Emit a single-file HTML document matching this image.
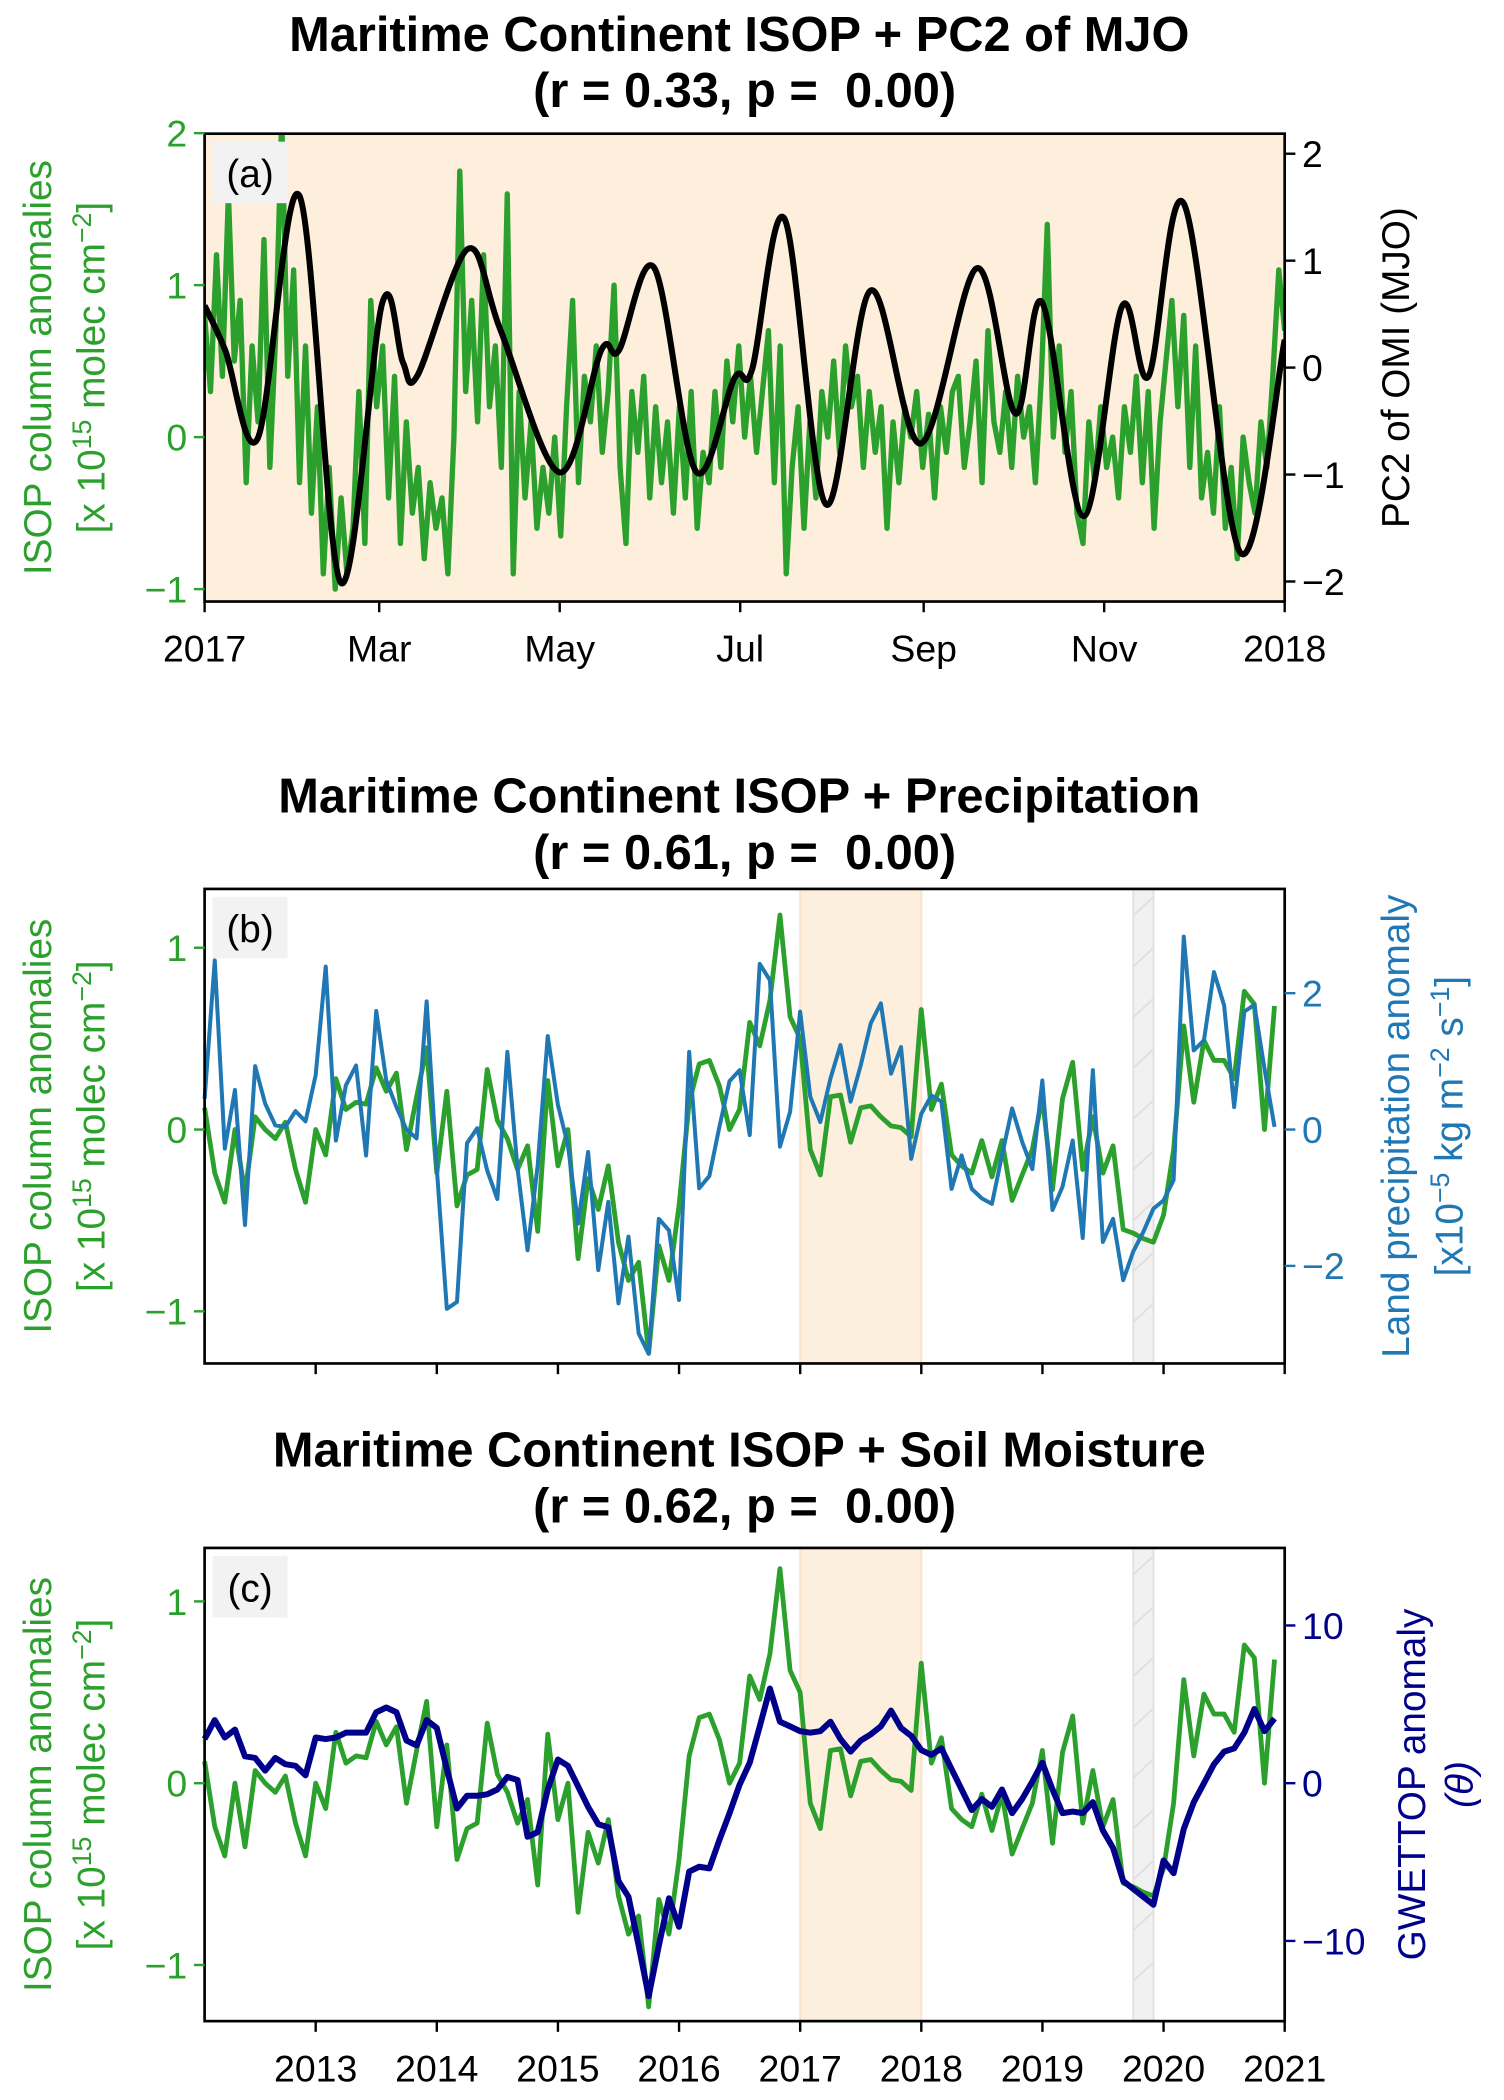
<!DOCTYPE html>
<html><head><meta charset="utf-8"><style>
html,body{margin:0;padding:0;background:#fff;}
svg{display:block;font-family:"Liberation Sans",Arial,sans-serif;}
text{white-space:pre;}
</style></head><body>
<svg id="fig" xmlns="http://www.w3.org/2000/svg" width="1504" height="2100" viewBox="0 0 1125 1571">
<g id="root"></g>
</svg>
<script>
// ---------- DATA ----------
const isopDaily = [0.8,0.3,1.2,0.4,1.6,0.5,0.9,-0.3,0.6,0.1,1.3,-0.2,0.7,2.1,0.4,
1.1,-0.3,0.6,-0.5,0.2,-0.9,-0.2,
-1.0,-0.4,-0.9,-0.6,0.3,-0.7,0.9,
0.2,0.6,-0.4,0.4,-0.7,0.1,-0.5,
-0.2,-0.8,-0.3,-0.6,-0.4,-0.9,0.0,
1.75,0.3,0.9,0.1,1.2,0.2,0.6,
-0.2,1.6,-0.9,0.3,-0.4,0.1,-0.6,
-0.2,-0.5,0.0,-0.65,0.2,0.9,-0.3,
0.4,0.1,0.6,-0.1,0.3,1.0,-0.2,
-0.7,0.3,-0.1,0.4,-0.4,0.2,-0.3,
0.1,-0.5,0.2,-0.4,0.3,-0.6,-0.1,
-0.3,0.3,-0.2,0.5,0.1,0.6,0.0,
0.4,-0.1,0.3,0.7,-0.3,0.6,-0.9,
-0.2,0.2,-0.6,0.1,-0.4,0.3,0.0,
0.5,-0.1,0.6,0.2,0.4,-0.2,0.3,
-0.1,0.2,-0.6,0.1,-0.3,0.2,0.0,
0.3,-0.2,0.15,-0.4,0.2,-0.1,0.3,
0.4,-0.2,0.1,0.5,-0.3,0.7,0.1,
-0.1,0.3,-0.2,0.4,0.0,0.2,-0.3,
0.4,1.4,0.0,0.6,-0.1,0.3,-0.5,
-0.7,0.1,-0.3,0.2,-0.2,0.0,-0.4,
0.2,-0.1,0.4,-0.3,0.3,-0.6,0.1,
0.5,0.9,0.2,0.8,-0.2,0.6,-0.4,
-0.1,-0.5,0.2,-0.6,-0.2,-0.8,0.0,
-0.3,-0.5,0.1,-0.2,0.4,1.1,0.7];
const mjoDays = [0,7,18,32,46,60,67,72,89,100,120,134,140,152,166,179,185,196,210,225,242,261,274,283,297,310,319,331,350,365];
const mjoVals = [0.58,0.16,-0.66,1.61,-2.01,0.6,0.05,-0.07,1.11,0.35,-0.98,0.16,0.16,0.93,-0.97,-0.1,-0.02,1.39,-1.28,0.72,-0.71,0.93,-0.43,0.61,-1.39,0.57,-0.08,1.53,-1.73,0.26];
const isopMonthly = [0.12,-0.24,-0.4,0,-0.35,0.07,0,-0.05,0.04,-0.22,-0.4,0,-0.14,0.28,0.11,0.15,0.14,0.34,0.21,0.31,-0.11,0.18,0.45,-0.24,0.21,-0.42,-0.25,-0.22,0.33,0.05,-0.05,-0.22,-0.09,-0.56,0.27,-0.2,0,-0.71,-0.27,-0.44,-0.2,-0.62,-0.83,-0.73,-1.23,-0.64,-0.83,-0.42,0.15,0.36,0.38,0.24,0,0.11,0.59,0.46,0.71,1.18,0.62,0.5,-0.11,-0.25,0.18,0.19,-0.07,0.12,0.13,0.07,0.02,0.01,-0.04,0.66,0.11,0.25,-0.14,-0.2,-0.24,-0.06,-0.26,-0.06,-0.39,-0.25,-0.11,0.18,-0.33,0.17,0.37,-0.22,0.07,-0.24,-0.09,-0.55,-0.57,-0.6,-0.62,-0.47,-0.11,0.57,0.15,0.49,0.38,0.38,0.28,0.76,0.69,0,0.68];
const precipMonthly = [0.45,2.48,-0.28,0.58,-1.4,0.93,0.38,0.06,0.04,0.27,0.12,0.8,2.39,-0.16,0.65,0.94,-0.38,1.74,0.72,0.33,0,-0.13,1.88,-0.57,-2.63,-2.53,-0.2,0.02,-0.6,-1.02,1.14,-0.57,-1.77,-0.52,1.37,0.36,-0.23,-1.38,-0.33,-2.06,-1.06,-2.55,-1.57,-2.99,-3.29,-1.31,-1.48,-2.5,1.14,-0.86,-0.68,0.04,0.71,0.87,-0.08,2.43,2.19,-0.25,0.26,1.73,0.48,0.11,0.75,1.24,0.41,0.94,1.56,1.85,0.82,1.21,-0.43,0.23,0.5,0.41,-0.87,-0.38,-0.87,-1.01,-1.09,-0.38,0.31,-0.18,-0.58,0.72,-1.18,-0.84,-0.16,-1.59,0.87,-1.65,-1.31,-2.21,-1.79,-1.5,-1.16,-1.04,-0.74,2.83,1.16,1.31,2.31,1.82,0.33,1.73,1.83,0.89,0.04];
const gwetMonthly = [2.8,4.0,2.9,3.4,1.7,1.6,0.8,1.6,1.2,1.1,0.5,2.9,2.8,2.9,3.2,3.2,3.2,4.5,4.8,4.5,2.7,2.4,4.0,3.5,0.9,-1.6,-0.8,-0.8,-0.7,-0.4,0.4,0.2,-3.4,-3.1,-0.4,1.5,1.1,-0.2,-1.5,-2.6,-2.8,-6.2,-7.2,-10.3,-13.5,-10.3,-7.3,-9.1,-5.6,-5.3,-5.4,-3.6,-1.9,-0.1,1.3,3.6,6.0,3.9,3.6,3.3,3.2,3.3,3.9,2.8,2.0,2.7,3.1,3.6,4.6,3.5,3.0,2.1,1.8,2.2,0.9,-0.4,-1.7,-1.0,-1.5,-0.4,-1.9,-1.0,0.1,1.3,-0.4,-1.9,-1.8,-1.9,-1.2,-3.0,-4.1,-6.2,-6.7,-7.2,-7.7,-4.9,-5.7,-2.9,-1.2,0,1.2,2.0,2.2,3.2,4.7,3.3,4.1];
const monthTickLabels = ["Mar","May","Jul","Sep","Nov"];
const monthTickDays = [59,120,181,243,304];
const yearTicks = [2013,2014,2015,2016,2017,2018,2019,2020,2021];

// ---------- HELPERS ----------
const NS="http://www.w3.org/2000/svg";
const root=document.getElementById('root');
function mk(tag,attrs,parent){const e=document.createElementNS(NS,tag);for(const k in attrs)e.setAttribute(k,attrs[k]);(parent||root).appendChild(e);return e;}
function txt(s,x,y,o,parent){const e=mk('text',Object.assign({x:x,y:y},o||{}),parent);e.textContent=s;return e;}
const GREEN="#2ca02c",BLUE="#1f77b4",NAVY="#00008b";
const XL=153,XR=961;
const TF=36.5, TK=28, LF=29;

function pathFrom(xs,ys){return xs.map((x,i)=>(i?'L':'M')+x.toFixed(1)+','+ys[i].toFixed(1)).join('');}
function catmull(pts){let d='M'+pts[0][0]+','+pts[0][1];for(let i=0;i<pts.length-1;i++){const p0=pts[Math.max(0,i-1)],p1=pts[i],p2=pts[i+1],p3=pts[Math.min(pts.length-1,i+2)];const c1=[p1[0]+(p2[0]-p0[0])/6,p1[1]+(p2[1]-p0[1])/6],c2=[p2[0]-(p3[0]-p1[0])/6,p2[1]-(p3[1]-p1[1])/6];d+='C'+c1[0].toFixed(1)+','+c1[1].toFixed(1)+' '+c2[0].toFixed(1)+','+c2[1].toFixed(1)+' '+p2[0].toFixed(1)+','+p2[1].toFixed(1);}return d;}

function titles(t1,t2,y){
  const a=txt(t1,553,y,{'font-size':TF,'font-weight':'bold','text-anchor':'middle'});
  
  
  const b=txt(t2,557,y+42,{'font-size':TF,'font-weight':'bold','text-anchor':'middle'});
  
  
}
function yTicks(vals,yf,side,color,g){
  vals.forEach(v=>{const y=yf(v);
    if(side==='L'){mk('line',{x1:XL-8,x2:XL,y1:y,y2:y,stroke:color,'stroke-width':1.8},g);
      const t=txt(v<0?'\u2212'+Math.abs(v):String(v),XL-13,y+10,{'font-size':TK,fill:color,'text-anchor':'end'},g);
      
      }
    else{mk('line',{x1:XR,x2:XR+8,y1:y,y2:y,stroke:color,'stroke-width':1.8},g);
      const t=txt(v<0?'\u2212'+Math.abs(v):String(v),XR+13,y+10,{'font-size':TK,fill:color},g);
      
      }
  });
}
function leftLabel(top,bot,g){
  const cy=(top+bot)/2;
  const a=txt('ISOP column anomalies',0,0,{'font-size':LF,fill:GREEN,'text-anchor':'middle',transform:`translate(38,${cy}) rotate(-90)`},g);
  
  
  const b=mk('text',{'font-size':LF,fill:GREEN,'text-anchor':'middle',transform:`translate(78,${cy}) rotate(-90)`},g);
  
  
  b.innerHTML='[x 10<tspan dy="-10" font-size="20">15</tspan><tspan dy="10"> molec cm</tspan><tspan dy="-10" font-size="20">\u22122</tspan><tspan dy="10">]</tspan>';
}
function panelLetter(s,top,g){
  mk('rect',{x:159,y:top+6,width:56,height:46,fill:'#f2f2f2'},g);
  const t=txt(s,187,top+40,{'font-size':29,'text-anchor':'middle'},g);
  
  
}
function frame(top,bot,g){mk('rect',{x:XL,y:top,width:XR-XL,height:bot-top,fill:'none',stroke:'#000','stroke-width':2},g);}

// ---------- PANEL A ----------
(function(){
  const g=mk('g',{});
  
  
  const T=100,B=450;
  const yL=v=>327-v*113.7, yR=v=>275-v*80, xd=d=>XL+d*(XR-XL)/365;
  titles('Maritime Continent ISOP + PC2 of MJO','(r = 0.33, p =  0.00)',38);
  const bg=mk('rect',{x:XL,y:T,width:XR-XL,height:B-T,fill:'#feefdd'},g);
  
  
  const cp=mk('clipPath',{id:'cpa'},g);mk('rect',{x:XL,y:T,width:XR-XL,height:B-T},cp);
  const n=isopDaily.length;
  const xs=isopDaily.map((v,i)=>xd(i*365/(n-1))), ys=isopDaily.map(v=>yL(v));
  const gl=mk('path',{d:pathFrom(xs,ys),fill:'none',stroke:GREEN,'stroke-width':4,'stroke-linejoin':'round','clip-path':'url(#cpa)'},g);
  
  
  const pts=mjoDays.map((d,i)=>[xd(d),yR(mjoVals[i])]);
  const bl=mk('path',{d:catmull(pts),fill:'none',stroke:'#000','stroke-width':4.5,'clip-path':'url(#cpa)'},g);
  
  
  frame(T,B,g);
  panelLetter('(a)',T,g);
  yTicks([-1,0,1,2],yL,'L',GREEN,g);
  yTicks([-2,-1,0,1,2],yR,'R','#000',g);
  const xt=[[0,'2017']].concat(monthTickDays.map((d,i)=>[d,monthTickLabels[i]])).concat([[365,'2018']]);
  xt.forEach(([d,s])=>{const x=xd(d);mk('line',{x1:x,x2:x,y1:B,y2:B+8,stroke:'#000','stroke-width':1.8},g);
    const t=txt(s,x,B+45,{'font-size':TK,'text-anchor':'middle'},g);
    
    });
  leftLabel(T,B,g);
  const r=txt('PC2 of OMI (MJO)',0,0,{'font-size':LF,'text-anchor':'middle',transform:`translate(1054,${(T+B)/2}) rotate(-90)`},g);
  
  
})();

// ---------- PANELS B & C ----------
function monthlyPanel(opt){
  const g=mk('g',{});
  
  
  const T=opt.top,B=opt.bot;
  const xt=t=>XL+(t-2012.083)*(XR-XL)/(2021-2012.083);
  const xm=i=>xt(2012.083+i/12);
  titles(opt.t1,opt.t2,opt.ty);
  const sh=mk('rect',{x:xt(2017),y:T,width:xt(2018)-xt(2017),height:B-T,fill:'#fdefdd',stroke:'#fde3c8','stroke-width':1.5},g);
  
  
  const gx=xt(2019.75),gw=xt(2019.917)-gx;
  const gr=mk('rect',{x:gx,y:T,width:gw,height:B-T,fill:'#f1f1f1',stroke:'#e2e2e2','stroke-width':1.5},g);
  
  
  for(let y=T+20;y<B;y+=38)mk('line',{x1:gx,y1:y,x2:gx+gw,y2:y-14,stroke:'#e0e0e0','stroke-width':1.5},g);
  const yL=v=>opt.l0-v*opt.lk, yR=v=>opt.r0-v*opt.rk;
  const gl=mk('path',{d:pathFrom(isopMonthly.map((v,i)=>xm(i)),isopMonthly.map(yL)),fill:'none',stroke:GREEN,'stroke-width':3.6,'stroke-linejoin':'round'},g);
  
  
  const sl=mk('path',{d:pathFrom(opt.series.map((v,i)=>xm(i)),opt.series.map(yR)),fill:'none',stroke:opt.color,'stroke-width':opt.sw,'stroke-linejoin':'round'},g);
  
  
  frame(T,B,g);
  panelLetter(opt.letter,T,g);
  yTicks([-1,0,1],yL,'L',GREEN,g);
  yTicks(opt.rticks,yR,'R',opt.color,g);
  yearTicks.forEach(yv=>{const x=xt(yv);mk('line',{x1:x,x2:x,y1:B,y2:B+8,stroke:'#000','stroke-width':1.8},g);
    if(opt.xlabels){const t=txt(String(yv),x,B+45,{'font-size':TK,'text-anchor':'middle'},g);
      
      }});
  leftLabel(T,B,g);
  opt.rlabel(g,(T+B)/2);
}
monthlyPanel({name:'panel-b-precip',top:665,bot:1020,ty:608,t1:'Maritime Continent ISOP + Precipitation',t2:'(r = 0.61, p =  0.00)',
  letter:'(b)',l0:845,lk:136,r0:845,rk:51,series:precipMonthly,color:BLUE,sw:3,seriesName:'precipitation-line',rticks:[-2,0,2],xlabels:false,
  rlabel:(g,cy)=>{const a=txt('Land precipitation anomaly',0,0,{'font-size':LF,fill:BLUE,'text-anchor':'middle',transform:`translate(1054,${cy}) rotate(-90)`},g);
    
    
    const b=mk('text',{'font-size':LF,fill:BLUE,'text-anchor':'middle',transform:`translate(1094,${cy}) rotate(-90)`},g);
    
    
    b.innerHTML='[x10<tspan dy="-10" font-size="20">\u22125</tspan><tspan dy="10"> kg m</tspan><tspan dy="-10" font-size="20">\u22122</tspan><tspan dy="10"> s</tspan><tspan dy="-10" font-size="20">\u22121</tspan><tspan dy="10">]</tspan>';}});
monthlyPanel({name:'panel-c-soil-moisture',top:1158,bot:1512,ty:1097,t1:'Maritime Continent ISOP + Soil Moisture',t2:'(r = 0.62, p =  0.00)',
  letter:'(c)',l0:1334,lk:136,r0:1334,rk:11.8,series:gwetMonthly,color:NAVY,sw:4.5,seriesName:'gwettop-line',rticks:[-10,0,10],xlabels:true,
  rlabel:(g,cy)=>{const a=txt('GWETTOP anomaly',0,0,{'font-size':LF,fill:NAVY,'text-anchor':'middle',transform:`translate(1066,${cy}) rotate(-90)`},g);
    
    
    const b=txt('(\u03b8)',0,0,{'font-size':LF,fill:NAVY,'text-anchor':'middle','font-style':'italic',transform:`translate(1102,${cy}) rotate(-90)`},g);
    
    }});
</script>
</body></html>
